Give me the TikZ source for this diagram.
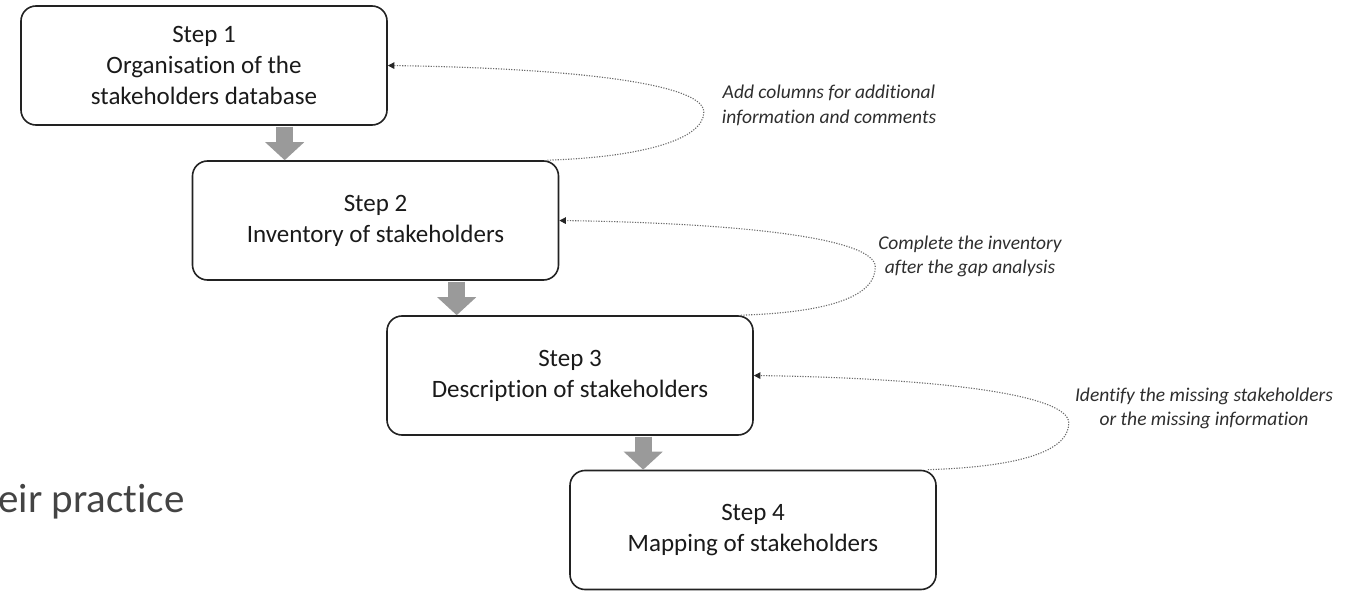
\documentclass[tikz,border=0pt]{standalone}
\usepackage{fontspec}
\setmainfont{Carlito}[Ligatures={NoCommon,NoContextual}]
\usetikzlibrary{arrows.meta,calc}
\definecolor{boxline}{HTML}{222222}
\definecolor{boxtext}{HTML}{1A1A1A}
\definecolor{notetext}{HTML}{2E2E2E}
\definecolor{blockgray}{HTML}{9A9A9A}
\definecolor{dotgray}{HTML}{6A6A6A}
\definecolor{slidegray}{HTML}{444444}
\tikzset{
  stepbox/.style={draw=boxline, line width=1.6pt, rounded corners=15pt,
    minimum width=366pt, minimum height=119pt, inner sep=0pt, align=center,
    text=boxtext, font=\fontsize{25}{31}\selectfont},
  notebox/.style={inner sep=0pt, align=center, text=notetext,
    font=\fontsize{19.5}{24.5}\selectfont\itshape},
  blockarrow/.style={draw=blockgray, line width=17pt,
    -{Triangle[length=18pt,width=38pt]}, shorten <=0.8pt},
  feedback/.style={draw=dotgray, line width=1.1pt,
    dash pattern=on 1.2pt off 1.4pt,
    -{Triangle[length=6.5pt,width=6.5pt,color=black!85]}}
}
\begin{document}
\begin{tikzpicture}[x=1pt,y=-1pt]
\useasboundingbox (0,0) rectangle (1345,591);
% boxes
\node[stepbox] (b1) at (204,65.5) {Step 1\\Organisation of the\\stakeholders database};
\node[stepbox] (b2) at (375.5,220.5) {Step 2\\Inventory of stakeholders};
\node[stepbox] (b3) at (570,375.5) {Step 3\\Description of stakeholders};
\node[stepbox] (b4) at (753,530) {Step 4\\Mapping of stakeholders};
% block arrows
\coordinate (a1) at ($(b1.south west)+(264.5,0)$);
\coordinate (a2) at ($(b2.south west)+(265,0)$);
\coordinate (a3) at ($(b3.south west)+(257,0)$);
\draw[blockarrow] (a1) -- (a1 |- b2.north);
\draw[blockarrow] (a2) -- (a2 |- b3.north);
\draw[blockarrow] (a3) -- (a3 |- b4.north);
% feedback loops
\coordinate (f1) at ($(b2.north east)+(-12,0)$);
\coordinate (r1) at ($(b1.east)+(316,46.5)$);
\draw[feedback] (f1) .. controls +(93,-3) and +(0,28) .. (r1)
  .. controls +(0,-30) and +(173,2.5) .. (b1.east);
\coordinate (f2) at ($(b3.north east)+(-13,0)$);
\coordinate (r2) at ($(b2.east)+(316,46.5)$);
\draw[feedback] (f2) .. controls +(93,-3) and +(0,28) .. (r2)
  .. controls +(0,-30) and +(173,2.5) .. (b2.east);
\coordinate (f3) at ($(b4.north east)+(-9,0)$);
\coordinate (r3) at ($(b3.east)+(315,47.5)$);
\draw[feedback] (f3) .. controls +(93,-3) and +(0,28) .. (r3)
  .. controls +(0,-30) and +(173,2.5) .. (b3.east);
% notes
\node[notebox] (n1) at (829,105.5) {Add columns for additional\\information and comments};
\node[notebox] (n2) at (970,256.5) {Complete the inventory\\after the gap analysis};
\node[notebox] (n3) at (1204,408.5) {Identify the missing stakeholders\\or the missing information};
% slide fragment
\node[anchor=base west, inner sep=0pt, text=slidegray,
  font=\fontsize{41}{48}\selectfont] (frag) at (-2,512) {eir practice};
\end{tikzpicture}
\end{document}
